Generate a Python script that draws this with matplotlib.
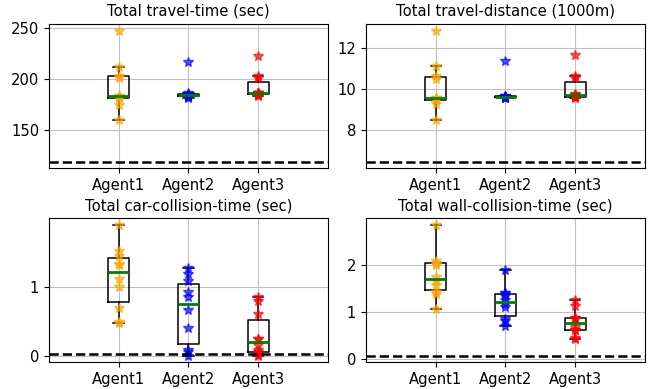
import matplotlib
matplotlib.use("Agg")
import matplotlib.pyplot as plt

plt.rcParams['font.size'] = 10.6

agents = ["Agent1", "Agent2", "Agent3"]
colors = ["orange", "blue", "red"]

titles = ["Total travel-time (sec)", "Total travel-distance (1000m)",
          "Total car-collision-time (sec)", "Total wall-collision-time (sec)"]

# valores por agente (10 episodios)
travel_time = [
    [160, 175, 181, 182, 183, 183.5, 201, 203, 212, 247.5],
    [181, 182, 183, 183.5, 184, 184, 184.5, 185, 186, 216.5],
    [183, 184, 185.5, 186, 186, 186.5, 186.5, 201, 203, 222.5],
]
travel_dist = [
    [8.49, 9.25, 9.45, 9.5, 9.55, 9.56, 10.5, 10.65, 11.12, 12.86],
    [9.55, 9.58, 9.6, 9.61, 9.62, 9.63, 9.64, 9.66, 9.68, 11.4],
    [9.55, 9.6, 9.62, 9.66, 9.7, 9.72, 9.75, 10.55, 10.65, 11.68],
]
car_coll = [
    [0.47, 0.49, 0.7, 1.0, 1.12, 1.32, 1.33, 1.45, 1.52, 1.9],
    [0.0, 0.06, 0.09, 0.4, 0.665, 0.85, 0.92, 1.09, 1.19, 1.28],
    [0.0, 0.01, 0.05, 0.08, 0.16, 0.25, 0.25, 0.6, 0.8, 0.85],
]
wall_coll = [
    [1.07, 1.39, 1.42, 1.58, 1.66, 1.74, 2.0, 2.04, 2.08, 2.85],
    [0.70, 0.81, 0.86, 1.10, 1.18, 1.26, 1.33, 1.40, 1.41, 1.89],
    [0.42, 0.45, 0.61, 0.61, 0.68, 0.86, 0.88, 0.88, 1.12, 1.25],
]
# linea de referencia (baseline)
baselines = [119, 6.46, 0.02, 0.07]

metrics = [travel_time, travel_dist, car_coll, wall_coll]

fig, axes = plt.subplots(2, 2, figsize=(6.56, 3.89), dpi=100)
fig.subplots_adjust(left=0.0747, right=0.983, top=0.938, bottom=0.0686,
                    wspace=0.137, hspace=0.349)

for ax, data, title, base in zip(axes.flat, metrics, titles, baselines):
    pos = [1, 2, 3]
    ax.boxplot(data, positions=pos, widths=0.3, showfliers=False,
               medianprops=dict(color='green', linewidth=2),
               boxprops=dict(linewidth=1.1),
               whiskerprops=dict(linewidth=1.1),
               capprops=dict(linewidth=1.1))
    for p, vals, c in zip(pos, data, colors):
        ax.plot([p] * len(vals), vals, '*', color=c, alpha=0.65, markersize=7.5)
    ax.axhline(base, color='k', linestyle='--', linewidth=1.8)
    ax.set_xlim(0, 4)
    ax.set_xticks(pos)
    ax.set_xticklabels(agents)
    ax.set_title(title, fontsize=10.6)
    ax.grid(True, color='#c0c0c0')

plt.savefig("out.png")
